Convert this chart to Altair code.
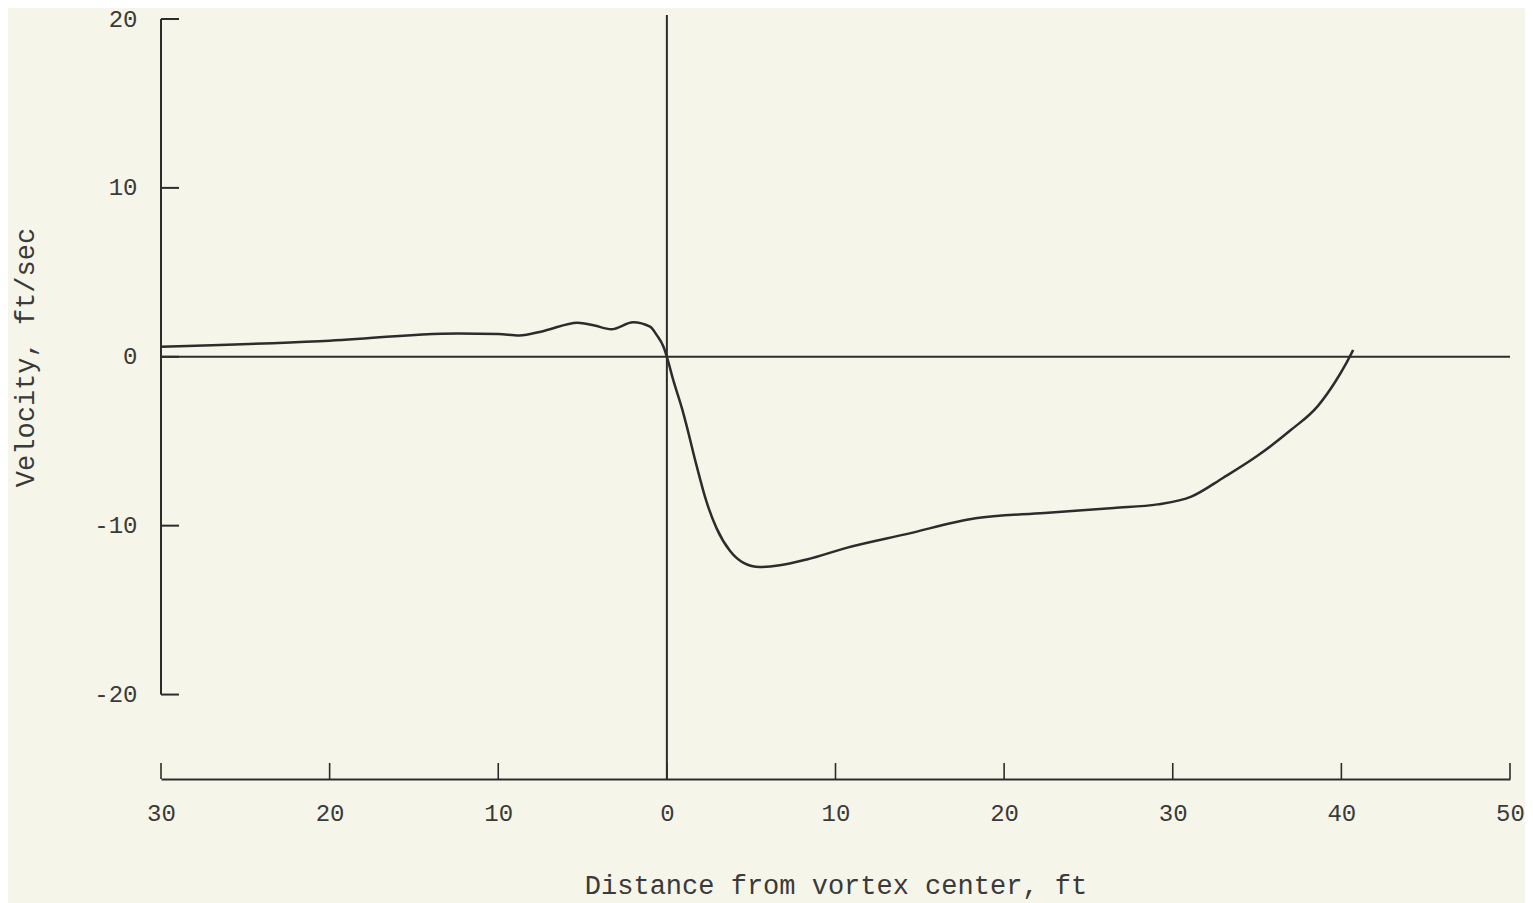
import altair as alt
import pandas as pd

# Curve (distance ft, velocity ft/sec)
dist = [-30, -20.6, -12.4, -10, -8.75, -7.3, -5.3, -4.3, -3.3, -2.0,
        -1.0, -0.6, -0.2, 0.0, 0.35, 0.95, 1.15, 1.75, 2.35, 2.95, 3.75, 4.55,
        5.5, 6.7, 8.3, 10.7, 14.2, 18.3, 22.4, 26.5, 29.1, 31.1, 33.0, 35.0,
        37.0, 38.6, 39.6, 40.3, 40.7]
vel = [0.6, 0.92, 1.38, 1.35, 1.26, 1.53, 2.02, 1.85, 1.63, 2.04,
       1.78, 1.28, 0.59, 0.0, -1.28, -3.25, -4.0, -6.4, -8.58, -10.16, -11.5,
       -12.2, -12.45, -12.35, -12.0, -11.3, -10.5, -9.56, -9.25, -8.95, -8.74,
       -8.28, -7.16, -5.88, -4.34, -2.92, -1.54, -0.36, 0.4]

x_ticks = [-30, -20, -10, 0, 10, 20, 30, 40, 50]
y_ticks = [20, 10, 0, -10, -20]
x_domain = [-30, 50]
y_domain = [-25, 20]

W, H = 1349, 760
INK = "#2c2c2c"
TXT = "#3a3a3a"
FONT = "Liberation Mono"

xscale = alt.Scale(domain=x_domain, nice=False, zero=False)
yscale = alt.Scale(domain=y_domain, nice=False, zero=False)

curve_df = pd.DataFrame({"d": dist, "v": vel})

curve = alt.Chart(curve_df).mark_line(
    interpolate="monotone", color=INK, strokeWidth=2.5, clip=False
).encode(
    x=alt.X("d:Q", scale=xscale, axis=alt.Axis(
        values=x_ticks, labelExpr="format(abs(datum.value), 'd')",
        labelFlush=False, labelOverlap=False,
        ticks=False, domain=True, domainColor=INK, domainWidth=2, grid=False,
        labelPadding=22, labelFont=FONT, labelFontSize=24, labelColor=TXT,
        title="Distance from vortex center, ft", titleFont=FONT,
        titleFontSize=27, titleFontWeight="normal", titleColor=TXT,
        titleBaseline="middle", titleY=106)),
    y=alt.Y("v:Q", scale=yscale, axis=alt.Axis(
        values=y_ticks, ticks=False, domain=False, grid=False,
        labelExpr="datum.value < 0 ? '-' + format(abs(datum.value), 'd') : format(datum.value, 'd')",
        labelFlush=False, labelOverlap=False,
        labelPadding=24, labelFont=FONT, labelFontSize=24, labelColor=TXT,
        labelBaseline="middle",
        title="Velocity, ft/sec", titleFont=FONT, titleFontSize=27,
        titleFontWeight="normal", titleColor=TXT, titleAngle=270,
        titleAlign="center", titleBaseline="middle", titleX=-136, titleY=338)),
)

# y-axis spine from the lowest to highest labelled tick
yspine_df = pd.DataFrame({"x": [x_domain[0]], "y": [min(y_ticks)], "y2": [max(y_ticks)]})
yspine = alt.Chart(yspine_df).mark_rule(color=INK, strokeWidth=2).encode(
    x=alt.X("x:Q", scale=xscale), y=alt.Y("y:Q", scale=yscale), y2="y2:Q")

ytick_df = pd.DataFrame({"y": y_ticks})
yticks = alt.Chart(ytick_df).mark_rule(color=INK, strokeWidth=2).encode(
    y=alt.Y("y:Q", scale=yscale), x=alt.value(0), x2=alt.value(18))

xtick_df = pd.DataFrame({"x": x_ticks})
xticks = alt.Chart(xtick_df).mark_rule(color=INK, strokeWidth=1.6).encode(
    x=alt.X("x:Q", scale=xscale), y=alt.value(H), y2=alt.value(H - 16))

# zero reference lines
hz_df = pd.DataFrame({"x": [x_domain[0]], "x2": [x_domain[1]], "y": [0]})
hzero = alt.Chart(hz_df).mark_rule(color=INK, strokeWidth=2).encode(
    x=alt.X("x:Q", scale=xscale), x2="x2:Q", y=alt.Y("y:Q", scale=yscale))

vz_df = pd.DataFrame({"x": [0]})
vzero = alt.Chart(vz_df).mark_rule(color=INK, strokeWidth=2).encode(
    x=alt.X("x:Q", scale=xscale), y=alt.value(-4), y2=alt.value(H))

chart = alt.layer(hzero, vzero, yspine, yticks, xticks, curve).properties(
    width=W, height=H,
    autosize=alt.AutoSizeParams(type="none"),
    padding={"left": 153, "top": 11, "right": 15, "bottom": 124},
    background="#f6f5e9",
).configure_view(stroke=None)

chart.save("out.html", embed_options={"renderer": "svg", "actions": False})
